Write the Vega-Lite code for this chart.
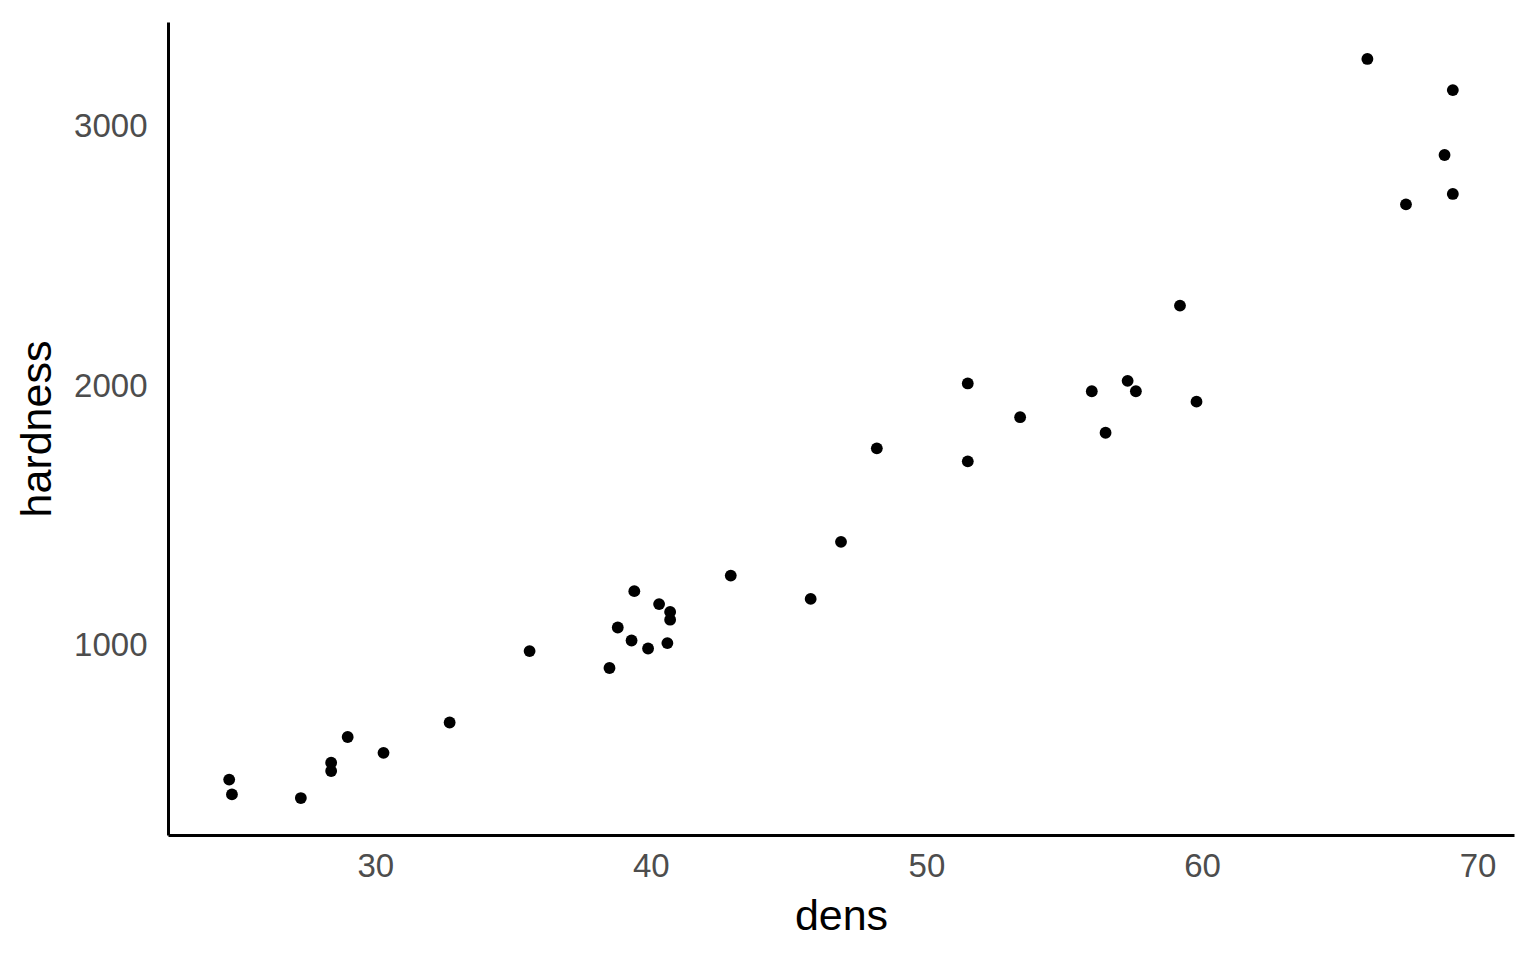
{
  "$schema": "https://vega.github.io/schema/vega-lite/v6.json",
  "autosize": "none",
  "width": 1346,
  "height": 813,
  "padding": {"left": 168, "top": 22, "right": 22, "bottom": 125},
  "background": "white",
  "config": {
    "view": {"stroke": null},
    "font": "Liberation Sans",
    "axis": {
      "grid": false,
      "ticks": false,
      "domainColor": "black",
      "domainWidth": 3,
      "labelFont": "Liberation Sans",
      "labelFontSize": 33,
      "labelColor": "#4D4D4D",
      "titleFont": "Liberation Sans",
      "titleFontSize": 43,
      "titleFontWeight": "normal",
      "titleColor": "black"
    }
  },
  "data": {
    "values": [
      {"dens": 24.7, "hardness": 484},
      {"dens": 24.8, "hardness": 427},
      {"dens": 27.3, "hardness": 413},
      {"dens": 28.4, "hardness": 517},
      {"dens": 28.4, "hardness": 549},
      {"dens": 29.0, "hardness": 648},
      {"dens": 30.3, "hardness": 587},
      {"dens": 32.7, "hardness": 704},
      {"dens": 35.6, "hardness": 979},
      {"dens": 38.5, "hardness": 914},
      {"dens": 38.8, "hardness": 1070},
      {"dens": 39.3, "hardness": 1020},
      {"dens": 39.4, "hardness": 1210},
      {"dens": 39.9, "hardness": 989},
      {"dens": 40.3, "hardness": 1160},
      {"dens": 40.6, "hardness": 1010},
      {"dens": 40.7, "hardness": 1100},
      {"dens": 40.7, "hardness": 1130},
      {"dens": 42.9, "hardness": 1270},
      {"dens": 45.8, "hardness": 1180},
      {"dens": 46.9, "hardness": 1400},
      {"dens": 48.2, "hardness": 1760},
      {"dens": 51.5, "hardness": 1710},
      {"dens": 51.5, "hardness": 2010},
      {"dens": 53.4, "hardness": 1880},
      {"dens": 56.0, "hardness": 1980},
      {"dens": 56.5, "hardness": 1820},
      {"dens": 57.3, "hardness": 2020},
      {"dens": 57.6, "hardness": 1980},
      {"dens": 59.2, "hardness": 2310},
      {"dens": 59.8, "hardness": 1940},
      {"dens": 66.0, "hardness": 3260},
      {"dens": 67.4, "hardness": 2700},
      {"dens": 68.8, "hardness": 2890},
      {"dens": 69.1, "hardness": 2740},
      {"dens": 69.1, "hardness": 3140}
    ]
  },
  "mark": {"type": "circle", "color": "black", "opacity": 1, "size": 140},
  "encoding": {
    "x": {
      "field": "dens",
      "type": "quantitative",
      "title": "dens",
      "scale": {"domain": [22.48, 71.32], "nice": false, "zero": false},
      "axis": {"values": [30, 40, 50, 60, 70], "format": "d", "labelPadding": 15, "titlePadding": 12}
    },
    "y": {
      "field": "hardness",
      "type": "quantitative",
      "title": "hardness",
      "scale": {"domain": [270.65, 3402.35], "nice": false, "zero": false},
      "axis": {"values": [1000, 2000, 3000], "format": "d", "labelPadding": 21, "titlePadding": 14}
    }
  }
}
